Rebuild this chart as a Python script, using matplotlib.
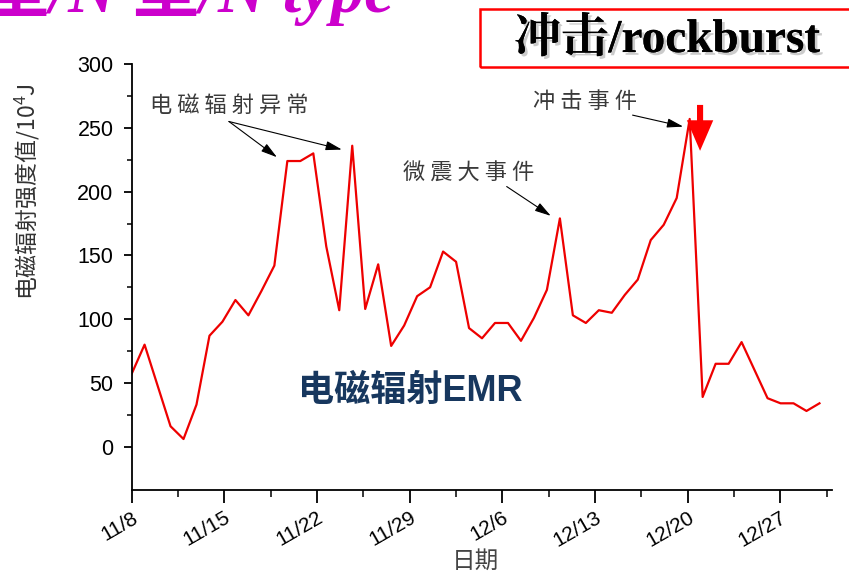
import numpy as np
import matplotlib
matplotlib.use("Agg")
import matplotlib.pyplot as plt
from matplotlib.patches import Rectangle
import matplotlib.patheffects as pe

plt.rcParams['font.family'] = ['Liberation Sans', 'Noto Sans CJK SC', 'DejaVu Sans']
plt.rcParams['mathtext.fontset'] = 'custom'
plt.rcParams['mathtext.rm'] = 'Liberation Sans'

# daily EMR intensity, 11/8 .. 12/31 (10^4 J)
emr = [57, 80, 48, 16, 6, 33, 87, 98, 115, 103,
       122, 142, 224, 224, 230, 157, 107, 236, 108, 143,
       79, 95, 118, 125, 153, 145, 93, 85, 97, 97,
       83, 101, 123, 179, 103, 97, 107, 105, 119, 131,
       162, 174, 195, 257, 39, 65, 65, 82, 60, 38,
       34, 34, 28, 34]
tick_labels = ['11/8', '11/15', '11/22', '11/29', '12/6', '12/13', '12/20', '12/27']
yticks = [0, 50, 100, 150, 200, 250, 300]

days = np.arange(len(emr))
# the weekly ticks of the original sit a bit wider than 7 data points
tick_step = 7.14

fig = plt.figure(figsize=(8.49, 5.74), dpi=100)
ax = fig.add_axes([0.155, 0.1463, 0.8255, 0.742])

ax.plot(days, emr, color='#ee0000', lw=1.6)

for s in ['top', 'right']:
    ax.spines[s].set_visible(False)
for s in ['left', 'bottom']:
    ax.spines[s].set_linewidth(1.3)

ax.set_yticks(yticks)
ax.set_yticks(np.arange(25, 300, 50), minor=True)
xt = np.arange(len(tick_labels)) * tick_step
ax.set_xticks(xt)
ax.set_xticklabels(tick_labels, rotation=30, ha='right', rotation_mode='anchor')
ax.set_xticks(xt + tick_step / 2, minor=True)
ax.set_xlim(0, 54.0)
ax.set_ylim(-34, 300)
ax.tick_params(axis='y', which='major', direction='out', length=6, width=1.3, labelsize=15.5, pad=7)
ax.tick_params(axis='y', which='minor', direction='out', length=3.5, width=1.1)
ax.tick_params(axis='x', which='major', direction='out', length=9, width=1.3, labelsize=15, pad=4)
ax.tick_params(axis='x', which='minor', direction='out', length=5, width=1.1)

ax.set_ylabel('电磁辐射强度值/10$^4$J', fontsize=16.5, color='#333333',
              family=['Noto Sans CJK SC', 'DejaVu Sans'])
ax.yaxis.set_label_coords(-0.128, 0.70)
ax.set_xlabel('日期', fontsize=17, color='#444444', family=['Noto Sans CJK SC'])
ax.xaxis.set_label_coords(0.49, -0.14)

# annotations
note = dict(fontsize=16, color='#3a3a3a', ha='center', va='center',
            family=['Noto Sans CJK SC'])
arw = dict(arrowstyle='-|>,head_length=0.7,head_width=0.2', color='black', lw=0.8,
           mutation_scale=14, shrinkA=0, shrinkB=0)
ax.text(7.5, 268, '电 磁 辐 射 异 常', **note)
ax.annotate('', xy=(11.2, 227), xytext=(7.5, 255), arrowprops=arw)
ax.annotate('', xy=(16.2, 233), xytext=(7.5, 255), arrowprops=arw)
ax.text(26.0, 214.5, '微 震 大 事 件', **note)
ax.annotate('', xy=(32.3, 181), xytext=(28.9, 204), arrowprops=arw)
ax.text(34.9, 271, '冲 击 事 件', **note)
ax.annotate('', xy=(42.5, 251), xytext=(38.6, 260), arrowprops=arw)

# red marker arrow above the rockburst peak
ax.annotate('', xy=(43.8, 232), xytext=(43.8, 268),
            arrowprops=dict(arrowstyle='simple,head_length=1.1,head_width=0.95,tail_width=0.22',
                            color='red', lw=0, mutation_scale=20, shrinkA=0, shrinkB=0))

ax.text(12.8, 43, '电磁辐射EMR', fontsize=26, fontweight='bold', color='#17375e',
        ha='left', va='center', family=['Liberation Sans', 'Noto Sans CJK SC'])

# slide title (cut by the top edge) and rockburst box
fig.text(-0.02, 1 - 12 / 574, '型/N 型/N type', fontsize=48, fontweight='bold', style='italic',
         color='#cc00cc', ha='left', va='baseline',
         family=['Liberation Serif', 'Noto Sans CJK SC'])
fig.patches.append(Rectangle((480 / 849, 1 - 67 / 574), 400 / 849, 58 / 574,
                             transform=fig.transFigure, fill=False, ec='#ff0000', lw=1.8))
fig.text(667 / 849, 1 - 40 / 574, '冲击/rockburst', fontsize=34, fontweight='bold',
         color='black', ha='center', va='center',
         family=['Liberation Serif', 'Noto Serif CJK SC', 'Noto Sans CJK SC'],
         path_effects=[pe.withSimplePatchShadow(offset=(2, -2), shadow_rgbFace='#999999', alpha=0.5),
                       pe.Normal()])

fig.savefig('out.png', dpi=100)
